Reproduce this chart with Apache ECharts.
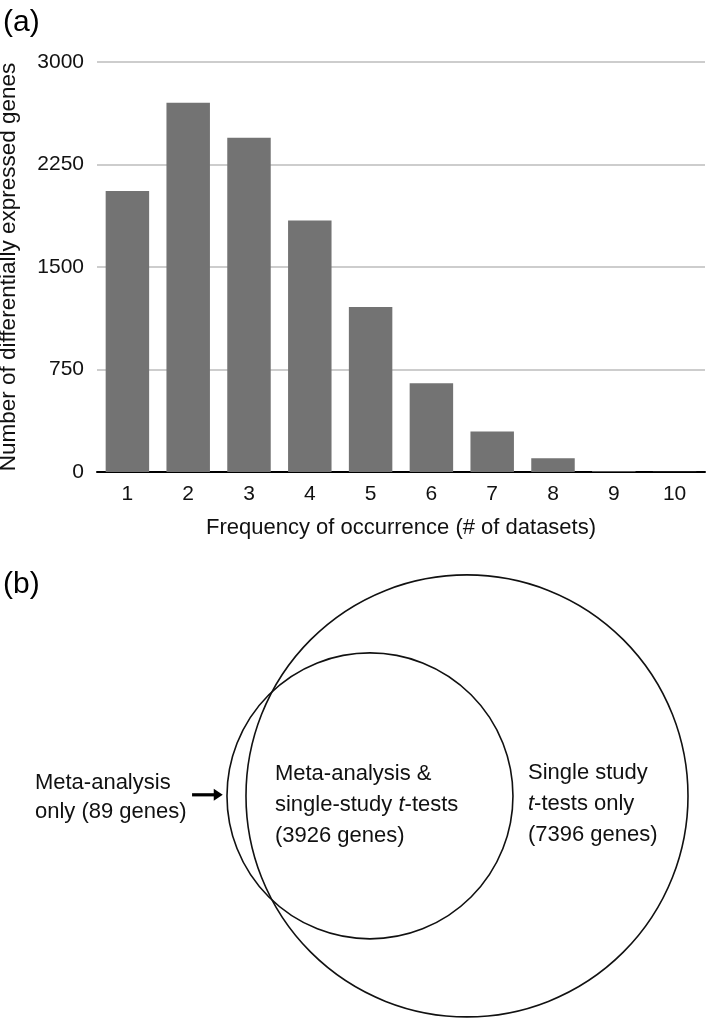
<!DOCTYPE html>
<html>
<head>
<meta charset="utf-8">
<script src="https://cdn.jsdelivr.net/npm/echarts@6/dist/echarts.min.js"></script>
<style>
html,body{margin:0;padding:0;background:#fff;}
#main{width:709px;height:1020px;}
</style>
</head>
<body>
<div id="main"></div>
<script>
// ---- Panel (a): bar chart data ----
var categories = ['1','2','3','4','5','6','7','8','9','10'];
var geneCounts = [2057, 2702, 2445, 1840, 1207, 650, 296, 100, 5, 1];
var yTicks = [0, 750, 1500, 2250, 3000];

// ---- Panel (b): Venn diagram (units: large circle radius = 100) ----
var vennCircleNames = ['Single-study t-tests', 'Meta-analysis'];
var vennCircleX = [0, -43.9];
var vennCircleY = [0, 0];
var vennCircleR = [100, 64.7];
var vennLabelX = [-195.5, -86.9, 27.6];
var vennLabelY = [-0.5, -4.1, -3.6];
var vennLabelText = [
  'Meta-analysis\nonly (89 genes)',
  'Meta-analysis &\nsingle-study {i|t}-tests\n(3926 genes)',
  'Single study\n{i|t}-tests only\n(7396 genes)'
];
var vennArrowFrom = [-124.4, 0.5];
var vennArrowTo = [-110.5, 0.5];

var FONT = "'Liberation Sans', Arial, Helvetica, sans-serif";

var chart = echarts.init(document.getElementById('main'), null, {renderer: 'canvas'});

var circleData = vennCircleX.map(function (x, i) {
  return [x, vennCircleY[i], vennCircleR[i]];
});
var labelData = vennLabelX.map(function (x, i) {
  return [x, vennLabelY[i], i];
});

var option = {
  backgroundColor: '#ffffff',
  animation: false,
  title: [
    {text: '(a)', left: 3, top: 8, padding: 0,
     textStyle: {fontFamily: FONT, fontSize: 30, fontWeight: 'normal', color: '#000'}},
    {text: '(b)', left: 3, top: 570, padding: 0,
     textStyle: {fontFamily: FONT, fontSize: 30, fontWeight: 'normal', color: '#000'}}
  ],
  grid: [
    {left: 97, right: 4, top: 62, height: 410, containLabel: false, outerBoundsMode: 'none'},
    {left: 0, right: 0, top: 540, bottom: 0, containLabel: false, outerBoundsMode: 'none'}
  ],
  xAxis: [
    {
      gridIndex: 0,
      type: 'category',
      data: categories,
      name: 'Frequency of occurrence (# of datasets)',
      nameLocation: 'middle',
      nameGap: 45,
      nameMoveOverlap: false,
      nameTextStyle: {fontFamily: FONT, fontSize: 22, color: '#111'},
      axisLine: {show: true, lineStyle: {color: '#000', width: 2}},
      axisTick: {show: false},
      axisLabel: {fontFamily: FONT, fontSize: 21, color: '#111', margin: 12},
      splitLine: {show: false}
    },
    {
      gridIndex: 1, type: 'value', min: -211.3, max: 109.5, show: false
    }
  ],
  yAxis: [
    {
      gridIndex: 0,
      type: 'value',
      min: yTicks[0],
      max: yTicks[yTicks.length - 1],
      interval: yTicks[1] - yTicks[0],
      name: 'Number of differentially expressed genes',
      nameLocation: 'middle',
      nameGap: 77,
      nameMoveOverlap: false,
      nameTextStyle: {fontFamily: FONT, fontSize: 22.5, color: '#111'},
      axisLine: {show: false},
      axisTick: {show: false},
      axisLabel: {fontFamily: FONT, fontSize: 21, color: '#111', margin: 13,
                  formatter: function (v) { return String(v); }},
      splitLine: {show: true, lineStyle: {color: '#bdbdbd', width: 1.5}}
    },
    {
      gridIndex: 1, type: 'value', min: -101.4, max: 115.8, show: false
    }
  ],
  series: [
    {
      type: 'bar',
      xAxisIndex: 0,
      yAxisIndex: 0,
      data: geneCounts,
      barWidth: '71.5%',
      itemStyle: {color: '#737373'},
      z: 1
    },
    {
      type: 'custom',
      name: 'circles',
      xAxisIndex: 1,
      yAxisIndex: 1,
      data: circleData,
      clip: false,
      renderItem: function (params, api) {
        var c = api.coord([api.value(0), api.value(1)]);
        var r = api.size([api.value(2), 0])[0];
        return {
          type: 'circle',
          shape: {cx: c[0], cy: c[1], r: r},
          style: {fill: 'none', stroke: '#111', lineWidth: 1.6}
        };
      }
    },
    {
      type: 'custom',
      name: 'labels',
      xAxisIndex: 1,
      yAxisIndex: 1,
      data: labelData,
      clip: false,
      renderItem: function (params, api) {
        var c = api.coord([api.value(0), api.value(1)]);
        var idx = api.value(2);
        var lh = idx === 0 ? 29 : 31;
        return {
          type: 'text',
          x: c[0], y: c[1],
          style: {
            text: vennLabelText[idx],
            fontFamily: FONT,
            fontSize: 22,
            fill: '#111',
            align: 'left',
            verticalAlign: 'middle',
            lineHeight: lh,
            rich: {
              i: {fontStyle: 'italic', fontFamily: FONT, fontSize: 22, fill: '#111', lineHeight: lh}
            }
          }
        };
      }
    },
    {
      type: 'custom',
      name: 'arrow',
      xAxisIndex: 1,
      yAxisIndex: 1,
      data: [[vennArrowFrom[0], vennArrowFrom[1], vennArrowTo[0], vennArrowTo[1]]],
      clip: false,
      renderItem: function (params, api) {
        var a = api.coord([api.value(0), api.value(1)]);
        var b = api.coord([api.value(2), api.value(3)]);
        var headLen = 9, headHalf = 6;
        return {
          type: 'group',
          children: [
            {type: 'line', shape: {x1: a[0], y1: a[1], x2: b[0] - headLen + 1, y2: b[1]},
             style: {stroke: '#000', lineWidth: 3.2}},
            {type: 'polygon', shape: {points: [[b[0], b[1]], [b[0] - headLen, b[1] - headHalf], [b[0] - headLen, b[1] + headHalf]]},
             style: {fill: '#000'}}
          ]
        };
      }
    }
  ]
};
chart.setOption(option);
</script>
</body>
</html>
